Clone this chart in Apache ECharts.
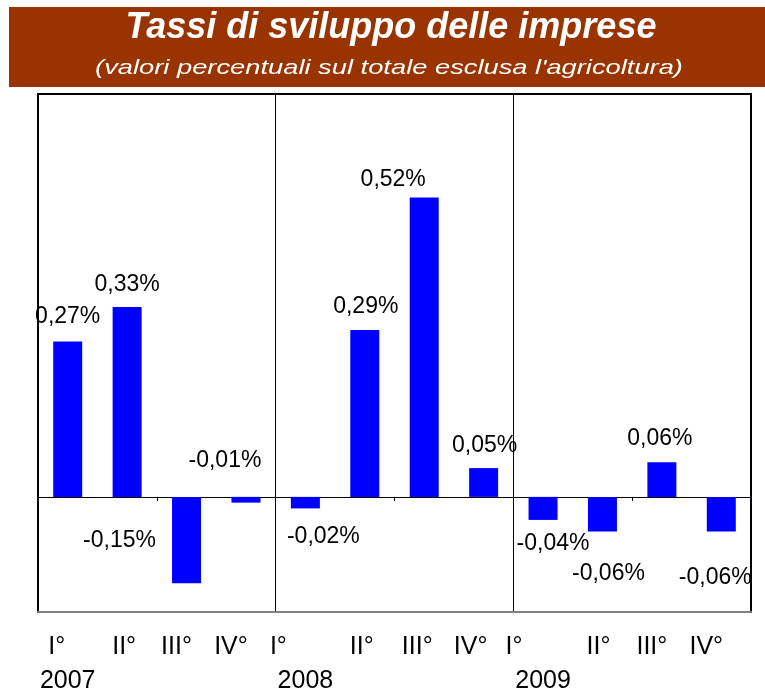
<!DOCTYPE html>
<html>
<head>
<meta charset="utf-8">
<script src="https://cdn.jsdelivr.net/npm/echarts@6/dist/echarts.min.js"></script>
<style>html,body{margin:0;padding:0;background:#fff;}#c{width:765px;height:695px;}</style>
</head>
<body>
<div id="c"></div>
<script>
// ---- data ----
const years = ['2007', '2008', '2009'];
const quarters = ['I°', 'II°', 'III°', 'IV°'];
const values = [0.27, 0.33, -0.15, -0.01, -0.02, 0.29, 0.52, 0.05, -0.04, -0.06, 0.06, -0.06];

// ---- style tweaks (label placement like the original) ----
const quarterShift = [-11, -3, -10, -15, -27, -3, -7, -13, -29, -4, -10, -15];
const labelOffsets = [[0,-13],[0,-11],[-67,-54],[-21,-53],[18,17],[1,-12],[-31,-6],[1,-11],[10,12],[6,31],[-2,-12],[-6,35]];

const categories = [];
years.forEach(y => quarters.forEach(q => categories.push(q + ' ' + y)));

const FONT = 'Liberation Sans, Arial, sans-serif';
const rich = { y: { fontSize: 25, lineHeight: 34, fontFamily: FONT, color: '#000' } };
quarterShift.forEach((s, i) => {
  rich['q' + i] = { fontSize: 25, lineHeight: 34, fontFamily: FONT, color: '#000', padding: [0, Math.max(0, -2 * s), 0, 0] };
});

const seriesData = values.map((v, i) => ({
  value: v,
  label: { position: v >= 0 ? 'top' : 'bottom', distance: 0, offset: labelOffsets[i] }
}));

const chart = echarts.init(document.getElementById('c'));
chart.setOption({
  animation: false,
  backgroundColor: '#fff',
  graphic: [
    { type: 'rect', shape: { x: 9, y: 7, width: 760, height: 80 }, style: { fill: '#993300' }, z: -1 },
    { type: 'text', x: 391, y: 28, style: { text: 'Tassi di sviluppo delle imprese', fill: '#fff', font: 'italic bold 36px ' + FONT, align: 'center', verticalAlign: 'middle' } },
    { type: 'text', x: 389, y: 68, scaleX: 1.3, style: { text: "(valori percentuali sul totale esclusa l'agricoltura)", fill: '#fff', font: 'italic 21px ' + FONT, align: 'center', verticalAlign: 'middle' } }
  ],
  grid: { left: 38, right: 14, top: 94, bottom: 83, show: true, borderColor: '#000', borderWidth: 2, backgroundColor: '#fff' },
  xAxis: [
    {
      type: 'category', data: categories,
      axisLine: { onZero: true, lineStyle: { color: '#000', width: 1 } },
      axisTick: { show: true, interval: (i) => i % 4 === 2, length: 4, lineStyle: { color: '#000' } },
      axisLabel: { show: false },
      splitLine: { show: true, interval: (i) => i % 4 === 0, lineStyle: { color: '#000', width: 1 } }
    },
    {
      type: 'category', data: categories, position: 'bottom',
      axisLine: { onZero: false, lineStyle: { color: '#808080', width: 2 } },
      axisTick: { show: false },
      splitLine: { show: false },
      axisLabel: {
        show: true, interval: 0, margin: 18,
        formatter: (val, i) => {
          const q = quarters[i % 4];
          return i % 4 === 0 ? '{q' + i + '|' + q + '}\n{y|' + years[Math.floor(i / 4)] + '}' : '{q' + i + '|' + q + '}';
        },
        rich: rich
      }
    }
  ],
  yAxis: { type: 'value', min: -0.2, max: 0.7, show: false, splitLine: { show: false } },
  series: [{
    type: 'bar', xAxisIndex: 0, data: seriesData, barWidth: 29,
    itemStyle: { color: '#0000FF' },
    label: {
      show: true, fontSize: 23, fontFamily: FONT, color: '#000',
      formatter: (p) => p.value.toFixed(2).replace('.', ',') + '%'
    }
  }]
});
</script>
</body>
</html>
